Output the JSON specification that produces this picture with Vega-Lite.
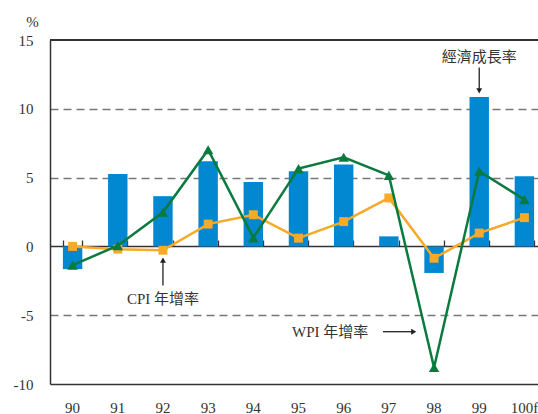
{
  "$schema": "https://vega.github.io/schema/vega-lite/v6.json",
  "width": 488,
  "height": 344,
  "autosize": {"type": "none"},
  "padding": {"left": 50, "top": 40, "right": 0, "bottom": 30},
  "background": "white",
  "config": {"view": {"stroke": null}, "font": "Liberation Serif"},
  "datasets": {
    "main": [
      {"year": "90", "gdp": -1.65, "cpi": 0.0, "wpi": -1.36},
      {"year": "91", "gdp": 5.26, "cpi": -0.2, "wpi": 0.05},
      {"year": "92", "gdp": 3.65, "cpi": -0.28, "wpi": 2.48},
      {"year": "93", "gdp": 6.19, "cpi": 1.62, "wpi": 7.03},
      {"year": "94", "gdp": 4.68, "cpi": 2.3, "wpi": 0.62},
      {"year": "95", "gdp": 5.46, "cpi": 0.6, "wpi": 5.65},
      {"year": "96", "gdp": 5.95, "cpi": 1.8, "wpi": 6.48},
      {"year": "97", "gdp": 0.73, "cpi": 3.52, "wpi": 5.16},
      {"year": "98", "gdp": -1.93, "cpi": -0.86, "wpi": -8.8},
      {"year": "99", "gdp": 10.85, "cpi": 0.97, "wpi": 5.46},
      {"year": "100f", "gdp": 5.1, "cpi": 2.09, "wpi": 3.4}
    ],
    "labels": [
      {"label": "經濟成長率", "x": 9.5, "y": 13.75},
      {"label": "CPI 年增率", "x": 2.5, "y": -3.8},
      {"label": "WPI 年增率", "x": 6.2, "y": -6.2}
    ],
    "arrows": [
      {"x": 9.5, "y": 13.0, "x2": 9.5, "y2": 11.3},
      {"x": 2.5, "y": -2.85, "x2": 2.5, "y2": -1.0},
      {"x": 7.37, "y": -6.2, "x2": 8.05, "y2": -6.2}
    ],
    "heads": [
      {"x": 9.5, "y": 11.3, "shape": "triangle-down"},
      {"x": 2.5, "y": -1.0, "shape": "triangle-up"},
      {"x": 8.05, "y": -6.2, "shape": "triangle-right"}
    ]
  },
  "layer": [
    {
      "data": {"name": "main"},
      "layer": [
        {
          "mark": {"type": "bar", "color": "#0288D1"},
          "encoding": {
            "x": {
              "field": "year", "type": "nominal", "sort": null,
              "scale": {"range": [0, 497], "paddingInner": 0.57, "paddingOuter": 0.285},
              "axis": {
                "orient": "bottom", "title": null, "labelAngle": 0,
                "domain": true, "domainColor": "#333", "domainWidth": 1.5,
                "ticks": false, "labelFont": "Liberation Serif", "labelFontSize": 15,
                "labelColor": "#333", "labelPadding": 16, "grid": false
              }
            },
            "y": {
              "field": "gdp", "type": "quantitative", "title": "%",
              "scale": {"domain": [-10, 15], "nice": false, "zero": false},
              "axis": {
                "values": [15, 10, 5, 0, -5, -10],
                "labelExpr": "replace(datum.label, '−', '-')",
                "title": "%", "titleAngle": 0, "titleX": -18, "titleY": -19,
                "titleAlign": "center", "titleBaseline": "middle",
                "titleFont": "Liberation Serif", "titleFontSize": 15, "titleFontWeight": "normal", "titleColor": "#333",
                "domain": true, "domainColor": "#333", "domainWidth": 1.5,
                "ticks": false, "labelFont": "Liberation Serif", "labelFontSize": 15,
                "labelColor": "#333", "labelPadding": 17,
                "grid": true, "gridDash": [8, 5], "gridWidth": 1.3,
                "gridColor": {"condition": {"test": "datum.value == 10 || datum.value == 5 || datum.value == -5", "value": "#777"}, "value": "transparent"}
              }
            }
          }
        },
        {
          "mark": {"type": "line", "color": "#F7A928", "strokeWidth": 2.5,
                   "point": {"shape": "square", "filled": true, "size": 80, "color": "#F7A928", "opacity": 1}},
          "encoding": {
            "x": {
              "field": "year", "type": "nominal", "sort": null,
              "axis": {
                "orient": "top", "offset": -206, "title": null, "labels": false,
                "domain": true, "domainColor": "#333", "domainWidth": 1.5,
                "ticks": true, "tickBand": "extent", "tickOffset": -12.9, "tickSize": 6, "tickColor": "#333", "tickWidth": 1.3,
                "grid": false
              }
            },
            "y": {"field": "cpi", "type": "quantitative", "title": "%"}
          }
        },
        {
          "mark": {"type": "line", "color": "#0A7A3E", "strokeWidth": 2.5,
                   "point": {"shape": "triangle-up", "filled": true, "size": 110, "color": "#0A7A3E", "opacity": 1}},
          "encoding": {
            "x": {"field": "year", "type": "nominal", "sort": null, "axis": null},
            "y": {"field": "wpi", "type": "quantitative", "title": "%"}
          }
        },
        {
          "mark": {"type": "rule", "color": "#333", "strokeWidth": 1.5},
          "encoding": {"y": {"datum": 15}}
        }
      ],
      "resolve": {"axis": {"x": "independent"}}
    },
    {
      "data": {"name": "arrows"},
      "mark": {"type": "rule", "color": "#222", "strokeWidth": 1.3},
      "encoding": {
        "x": {"field": "x", "type": "quantitative", "scale": {"domain": [0, 11], "range": [0, 497]}, "axis": null},
        "x2": {"field": "x2"},
        "y": {"field": "y", "type": "quantitative", "title": "%"},
        "y2": {"field": "y2"}
      }
    },
    {
      "data": {"name": "heads"},
      "mark": {"type": "point", "filled": true, "size": 35, "color": "#222", "opacity": 1},
      "encoding": {
        "x": {"field": "x", "type": "quantitative", "scale": {"domain": [0, 11], "range": [0, 497]}, "axis": null},
        "y": {"field": "y", "type": "quantitative", "title": "%"},
        "shape": {"field": "shape", "type": "nominal", "scale": null}
      }
    },
    {
      "data": {"name": "labels"},
      "mark": {"type": "text", "font": "Liberation Serif, Noto Sans CJK TC", "fontSize": 15, "color": "#333", "align": "center", "baseline": "middle"},
      "encoding": {
        "x": {"field": "x", "type": "quantitative", "scale": {"domain": [0, 11], "range": [0, 497]}, "axis": null},
        "y": {"field": "y", "type": "quantitative", "title": "%"},
        "text": {"field": "label"}
      }
    }
  ],
  "resolve": {"scale": {"x": "independent"}, "axis": {"x": "independent"}}
}
